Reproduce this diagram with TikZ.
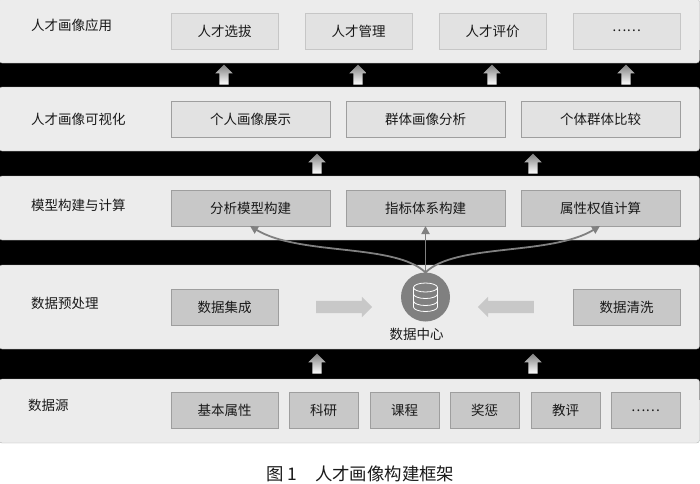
\documentclass[tikz,border=0pt]{standalone}
\usepackage{fontspec}
\setmainfont{Noto Sans CJK SC}
\usetikzlibrary{positioning,shapes.arrows,arrows.meta}
\definecolor{bandgray}{gray}{0.925}
\definecolor{lightbox}{gray}{0.885}
\definecolor{darkbox}{gray}{0.785}
\definecolor{boxline}{gray}{0.62}
\definecolor{centergray}{gray}{0.5}
\tikzstyle{band}=[draw=gray!60,fill=bandgray,rounded corners=3pt,minimum width=700.5pt,minimum height=64pt,inner sep=0,outer sep=0,anchor=north west]
\tikzstyle{title}=[anchor=west,inner sep=0,font=\fontsize{13.5}{13.5}\selectfont,text=black!90]
\tikzstyle{box}=[draw=boxline,thick,minimum height=36pt,inner sep=0,outer sep=0,font=\fontsize{13.5}{13.5}\selectfont,text=black!90]
\tikzstyle{wide}=[box,fill=lightbox,minimum width=107pt]
\tikzstyle{longb}=[box,fill=lightbox,minimum width=159pt]
\tikzstyle{upar}=[single arrow,shape border rotate=90,minimum width=17pt,minimum height=20pt,single arrow head extend=4pt,inner sep=4.5pt,top color=gray,bottom color=white]
\tikzstyle{sidear}=[single arrow,minimum width=20pt,minimum height=56pt,single arrow head extend=4pt,inner sep=6pt,fill=darkbox]
\tikzstyle{curve}=[draw=gray,line width=1.8pt,-{Triangle[length=8pt,width=8pt]}]

\begin{document}
\begin{tikzpicture}[x=1pt,y=-1pt]

	\useasboundingbox (0,0) rectangle (700,483);
	\clip (0,0) rectangle (700,483);
	\fill[black] (0,50) rectangle (700,400);

	% bands
	\node[band] (app) at (-1,-1) {};
	\node[band] at (-1,87) (vis) {};
	\node[band] at (-1,176) (model) {};
	\node[band,minimum height=84pt] at (-1,265) (pre) {};
	\node[band] at (-1,379) (src) {};

	\node[title] at (31,25.5) (lapp) {人才画像应用};
	\node[title] at (31,119) (lvis) {人才画像可视化};
	\node[title] at (31,205) (lmodel) {模型构建与计算};
	\node[title] at (31,303) (lpre) {数据预处理};
	\node[title] at (28,405) (lsrc) {数据源};

	% top row
	\node[wide,draw=gray!45,anchor=west] at (171,31) (a1) {人才选拔};
	\node[wide,draw=gray!45,right=27pt of a1] (a2) {人才管理};
	\node[wide,draw=gray!45,right=27pt of a2] (a3) {人才评价};
	\node[wide,draw=gray!45,right=27pt of a3] (a4) {……};

	% second row
	\node[longb,anchor=west] at (171,119) (v1) {个人画像展示};
	\node[longb,right=16pt of v1] (v2) {群体画像分析};
	\node[longb,right=16pt of v2] (v3) {个体群体比较};

	% third row
	\node[longb,fill=darkbox,anchor=west] at (171,208) (m1) {分析模型构建};
	\node[longb,fill=darkbox,right=16pt of m1] (m2) {指标体系构建};
	\node[longb,fill=darkbox,right=16pt of m2] (m3) {属性权值计算};

	% data preprocessing
	\node[wide,fill=darkbox,anchor=west] at (171,307) (p1) {数据集成};
	\node[wide,fill=darkbox,anchor=east] at (680,307) (p2) {数据清洗};
	\node[circle,fill=centergray,minimum size=49pt,inner sep=0,outer sep=0] at (425.5,297) (dc) {};
	\node[inner sep=0,font=\fontsize{13.5}{13.5}\selectfont,text=black!90] at (416.5,334) (ldc) {数据中心};
	\node[sidear] at (341,307) (ar1) {};
	\node[sidear,shape border rotate=180] at (509,307) (ar2) {};

	% database icon
	\draw[white,thick] (425.5,287.5) ellipse (12pt and 4.5pt);
	\draw[white,thick] (413.5,287.5) -- (413.5,307) arc[start angle=180,end angle=360,x radius=12pt,y radius=4.5pt] -- (437.5,287.5);
	\draw[white,thick] (413.5,294) arc[start angle=180,end angle=360,x radius=12pt,y radius=4.5pt];
	\draw[white,thick] (413.5,301) arc[start angle=180,end angle=360,x radius=12pt,y radius=4.5pt];

	% sources
	\node[wide,fill=darkbox,anchor=west] at (171,410.5) (s1) {基本属性};
	\node[box,fill=darkbox,minimum width=69pt,right=11pt of s1] (s2) {科研};
	\node[box,fill=darkbox,minimum width=69pt,right=12pt of s2] (s3) {课程};
	\node[box,fill=darkbox,minimum width=69pt,right=11pt of s3] (s4) {奖惩};
	\node[box,fill=darkbox,minimum width=69pt,right=12pt of s4] (s5) {教评};
	\node[box,fill=darkbox,minimum width=69pt,right=11pt of s5] (s6) {……};

	% block arrows
	\node[upar] at (224,77) (u1) {};
	\node[upar] at (358,77) (u2) {};
	\node[upar] at (492,77) (u3) {};
	\node[upar] at (626,77) (u4) {};
	\node[upar] at (317,166) (u5) {};
	\node[upar] at (533,166) (u6) {};
	\node[upar] at (317,366) (u7) {};
	\node[upar] at (533,366) (u8) {};

	% arrows out of the data centre
	\draw[curve] (dc.north) .. controls (395,243) and (300,256) .. (m1.south -| 250,0);
	\draw[curve] (dc.north) -- (m2.south);
	\draw[curve] (dc.north) .. controls (455,243) and (550,256) .. (m3.south -| 600,0);

	\node[anchor=west,inner sep=0,font=\fontsize{17.4}{17.4}\selectfont,text=black!90] at (266,473.5) (cap) {图 1\hspace{18pt}人才画像构建框架};

\end{tikzpicture}
\end{document}
